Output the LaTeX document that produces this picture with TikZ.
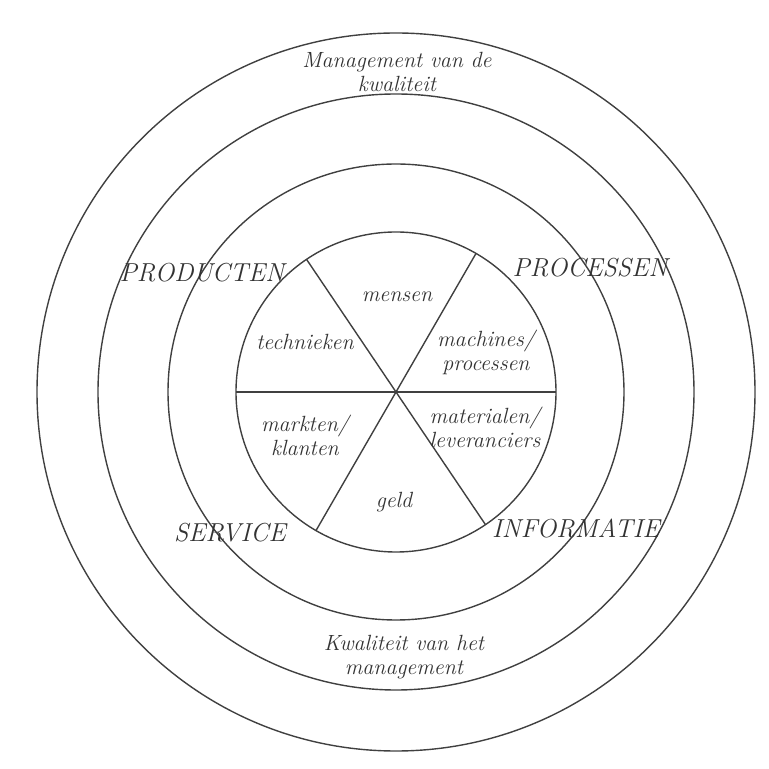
\documentclass[tikz,border=0pt]{standalone}
\usepackage{tikz}

\begin{document}
\begin{tikzpicture}[x=0.5pt, y=0.5pt,
    ring/.style={line width=0.7pt, black!75},
    sector/.style={font=\itshape\fontsize{11}{12}\selectfont, align=center, text=black!80},
    aspect/.style={font=\itshape\fontsize{13}{14}\selectfont, text=black!80}]

    % 1. Vaste afmetingen van het plaatje (768 x 769)
    \useasboundingbox (-396, -377) rectangle (372, 392);

    % 2. Vier concentrische cirkels
    \draw[ring] (0, 0) circle (359);
    \draw[ring] (0, 0) circle (298);
    \draw[ring] (0, 0) circle (228);
    \draw[ring] (0, 0) circle (160);

    % 3. Drie middellijnen van de binnenste cirkel
    \coordinate (O) at (0, 0);
    \draw[ring] (180:160) -- (0:160);
    \draw[ring] (240:160) -- (60:160);
    \draw[ring] (304:160) -- (124:160);

    % 4. Teksten in de buitenste ring
    \node[sector] (mvk) at (1, 320) {Management van de\\kwaliteit};
    \node[sector] (kvm) at (8, -265) {Kwaliteit van het\\management};

    % 5. Aandachtsgebieden
    \node[aspect] (producten) at (-194, 119) {PRODUCTEN};
    \node[aspect] (processen) at (194, 124) {PROCESSEN};
    \node[aspect] (service) at (-166, -141) {SERVICE};
    \node[aspect] (informatie) at (180, -136) {INFORMATIE};

    % 6. Zes sectoren
    \node[sector] (mensen) at (1, 95) {mensen};
    \node[sector] (technieken) at (-91, 50) {technieken};
    \node[sector] (machines) at (90, 40) {machines/\\processen};
    \node[sector] (markten) at (-91, -43) {markten/\\klanten};
    \node[sector] (geld) at (-2, -110) {geld};
    \node[sector] (materialen) at (89, -35) {materialen/\\leveranciers};

\end{tikzpicture}
\end{document}
